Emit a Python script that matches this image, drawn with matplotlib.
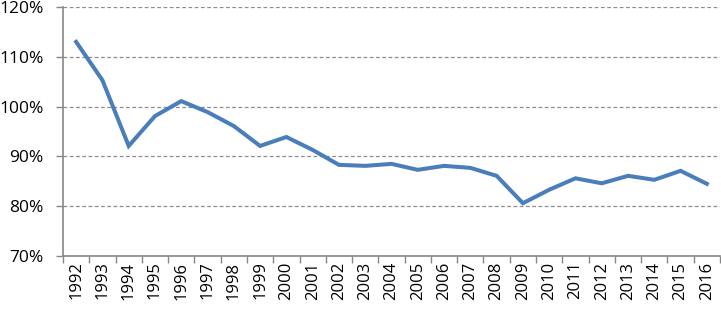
import matplotlib
matplotlib.use("Agg")
import matplotlib.pyplot as plt
from matplotlib.ticker import FixedLocator, FuncFormatter

years = [str(y) for y in range(1992, 2017)]
values = [113.0, 105.3, 92.1, 98.1, 101.1, 98.9, 96.1, 92.1, 93.9, 91.3,
          88.3, 88.1, 88.5, 87.3, 88.1, 87.7, 86.1, 80.6, 83.3, 85.6,
          84.6, 86.1, 85.3, 87.1, 84.5]

plt.rcParams['font.family'] = ['Open Sans', 'DejaVu Sans']

fig = plt.figure(figsize=(7.21, 3.10), dpi=100)
ax = fig.add_axes([63 / 721, 1 - 256 / 310, 657 / 721, 249 / 310])

x = list(range(len(years)))
ax.plot(x, values, color='#4a7ebb', linewidth=2.9, solid_joinstyle='miter')

ax.set_xlim(-0.5, len(years) - 0.5)
ax.set_ylim(70, 120)
ax.set_yticks([70, 80, 90, 100, 110, 120])
ax.yaxis.set_major_formatter(FuncFormatter(lambda v, p: f"{v:.0f}%"))
ax.grid(axis='y', color='#8c8c8c', linestyle=(0, (3, 2)), linewidth=0.9)

ax.set_xticks(x)
ax.set_xticklabels(years, rotation=90)
ax.xaxis.set_minor_locator(FixedLocator([i - 0.5 for i in range(len(years) + 1)]))
ax.tick_params(axis='x', which='major', length=0, labelsize=12, pad=4)
ax.tick_params(axis='x', which='minor', length=5, color='#868686', width=1)
ax.tick_params(axis='y', length=5, color='#868686', width=1, labelsize=12.5, pad=9)

for s in ['top', 'right']:
    ax.spines[s].set_visible(False)
for s in ['left', 'bottom']:
    ax.spines[s].set_color('#868686')
    ax.spines[s].set_linewidth(1.2)
ax.set_axisbelow(True)

fig.savefig('out.png', dpi=100)
